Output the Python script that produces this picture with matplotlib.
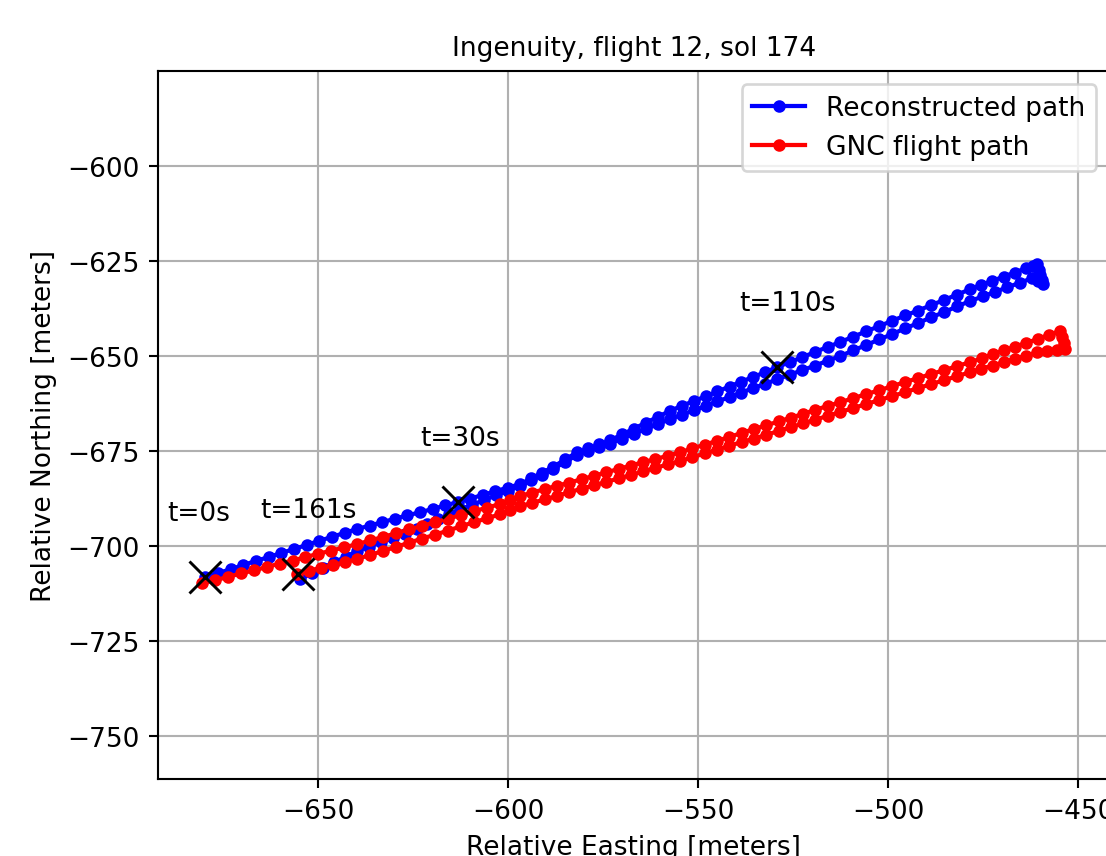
import numpy as np
import matplotlib
matplotlib.use("Agg")
import matplotlib.pyplot as plt

# reconstructed path (blue), east / north in meters
rec_e = [-679.7, -676.4, -673.0, -669.7, -666.4, -663.0, -659.7, -656.4, -653.0, -649.7, -646.4, -643.0, -639.7,
         -636.4, -633.1, -629.8, -626.5, -623.1, -619.8, -616.5, -613.2,
         -609.9, -606.6, -603.4, -600.1, -596.8, -593.9, -591.1, -588.2, -585.0, -581.8,
         -578.9, -576.0, -573.2, -570.0, -566.9, -563.7, -560.6, -557.4,
         -554.3, -551.1, -548.0, -544.9, -541.7, -538.6, -535.5, -532.3, -529.2,
         -525.9, -522.6, -519.2, -515.9, -512.6,
         -509.2, -505.8, -502.3, -498.9, -495.5, -492.1, -488.7, -485.2, -481.8, -478.4,
         -475.5, -472.6, -469.6, -466.7, -463.7, -461.8, -460.8,
         -460.4, -460.0, -459.6, -459.2,
         -460.6, -462.1, -465.4, -468.6, -471.9, -475.1, -478.4,
         -481.8, -485.2, -488.7, -492.1, -495.5, -498.9, -502.3, -505.8, -509.2, -512.6,
         -515.9, -519.2, -522.6, -525.9, -529.2,
         -532.3, -535.5, -538.6, -541.7, -544.9, -548.0, -551.1, -554.3, -557.4,
         -560.6, -563.7, -566.9, -570.0, -573.2, -576.1, -578.9, -581.8, -585.0, -588.2,
         -591.1, -593.9, -596.8, -600.0, -603.1, -606.3, -609.4, -612.6,
         -615.5, -618.3, -621.2, -624.0, -627.1, -630.3, -633.4, -636.6, -639.7,
         -642.7, -645.7, -648.7, -651.7, -654.7]
rec_n = [-708.2, -707.1, -706.1, -705.0, -703.9, -702.9, -701.8, -700.8, -699.7, -698.6, -697.6, -696.5, -695.5,
         -694.6, -693.7, -692.8, -691.9, -691.1, -690.2, -689.3, -688.4,
         -687.5, -686.5, -685.6, -684.6, -683.7, -682.2, -680.7, -679.2, -677.2, -675.3,
         -674.3, -673.2, -672.2, -670.6, -669.1, -667.5, -666.0, -664.4,
         -663.1, -661.8, -660.6, -659.3, -658.0, -656.7, -655.5, -654.2, -652.9,
         -651.6, -650.3, -648.9, -647.6, -646.3,
         -644.9, -643.5, -642.1, -640.7, -639.3, -638.0, -636.6, -635.2, -633.8, -632.4,
         -631.3, -630.2, -629.1, -628.0, -626.9, -626.2, -625.8,
         -627.2, -628.6, -629.9, -631.1,
         -630.3, -629.5, -630.7, -631.9, -633.1, -634.3, -635.5,
         -636.9, -638.4, -639.8, -641.3, -642.7, -644.2, -645.6, -647.1, -648.5, -650.0,
         -651.2, -652.5, -653.7, -654.9, -656.1,
         -657.3, -658.4, -659.6, -660.8, -661.9, -663.1, -664.3, -665.4, -666.6,
         -667.9, -669.2, -670.4, -671.7, -673.0, -674.0, -675.0, -676.0, -677.9, -679.7,
         -681.2, -682.7, -684.2, -685.4, -686.6, -687.9, -689.1, -690.3,
         -691.6, -692.9, -694.2, -695.5, -696.7, -697.8, -699.0, -700.1, -701.3,
         -702.8, -704.2, -705.7, -707.2, -708.7]

# GNC flight path (red)
gnc_e = [-680.5, -677.1, -673.7, -670.3, -666.9, -663.5, -660.1, -656.7, -653.3, -649.9, -646.5, -643.1, -639.7,
         -636.3, -632.9, -629.5, -626.0, -622.6, -619.2, -615.8, -612.4, -609.0, -605.5, -602.1,
         -599.5, -596.8,
         -593.6, -590.3, -587.1, -583.9, -580.6, -577.4, -574.2, -570.9, -567.7, -564.4, -561.2, -558.0, -554.7,
         -551.5, -548.2, -545.0, -541.8, -538.5, -535.3, -532.0, -528.8, -525.6, -522.3, -519.1, -515.8, -512.6,
         -509.2, -505.8, -502.3, -498.9, -495.5, -492.1, -488.7, -485.2, -481.8, -478.4,
         -475.4, -472.5, -469.5, -466.6, -463.6, -460.6, -457.7, -454.7,
         -454.2, -453.8, -453.4,
         -455.5, -458.1, -460.8,
         -463.7, -466.7, -469.6, -472.5, -475.5, -478.4,
         -481.8, -485.2, -488.7, -492.1, -495.5, -498.9, -502.3, -505.8, -509.2, -512.6,
         -515.8, -519.1, -522.3, -525.6, -528.8, -532.0, -535.3, -538.5, -541.8, -545.0, -548.2, -551.5, -554.7,
         -557.9, -561.2, -564.4, -567.7, -570.9, -574.2, -577.4, -580.6, -583.9, -587.1, -590.3, -593.6, -596.8,
         -599.5, -602.1,
         -605.5, -609.0, -612.4, -615.8, -619.2, -622.6, -626.0, -629.5, -632.9, -636.3, -639.7,
         -642.9, -646.0, -649.2, -652.3, -655.5]
gnc_n = [-709.8, -709.0, -708.1, -707.2, -706.4, -705.5, -704.6, -703.8, -702.9, -702.0, -701.2, -700.3, -699.5,
         -698.5, -697.6, -696.6, -695.6, -694.7, -693.7, -692.8, -691.8, -690.8, -689.9, -688.9,
         -687.9, -686.8,
         -685.9, -685.0, -684.1, -683.3, -682.4, -681.5, -680.6, -679.7, -678.8, -677.9, -677.1, -676.2, -675.3,
         -674.3, -673.3, -672.3, -671.3, -670.2, -669.2, -668.2, -667.2, -666.2, -665.2, -664.1, -663.1, -662.1,
         -661.1, -660.0, -659.0, -657.9, -656.8, -655.8, -654.7, -653.7, -652.6, -651.6,
         -650.6, -649.5, -648.5, -647.5, -646.5, -645.5, -644.4, -643.4,
         -645.0, -646.6, -648.2,
         -648.5, -648.7, -649.0,
         -649.9, -650.7, -651.6, -652.5, -653.3, -654.2,
         -655.3, -656.3, -657.4, -658.4, -659.5, -660.5, -661.6, -662.6, -663.7, -664.7,
         -665.7, -666.7, -667.7, -668.7, -669.7, -670.7, -671.7, -672.6, -673.6, -674.6, -675.6, -676.6, -677.6,
         -678.5, -679.4, -680.3, -681.3, -682.2, -683.1, -684.0, -684.9, -685.8, -686.8, -687.7, -688.6, -689.5,
         -690.5, -691.6,
         -692.7, -693.7, -694.8, -695.9, -697.0, -698.0, -699.1, -700.2, -701.3, -702.3, -703.4,
         -704.2, -705.0, -705.7, -706.5, -707.3]

# time marks on the reconstructed path
mark_t = [0, 30, 110, 161]
mark_e = [-679.7, -613.2, -529.2, -655.3]
mark_n = [-708.2, -688.4, -652.9, -707.4]

plt.rcParams['font.size'] = 10
fig = plt.figure(figsize=(1106 / 190, 857 / 190), dpi=190)
ax = fig.add_axes([0.1429, 0.0898, 0.86, 0.826])

ax.plot(rec_e, rec_n, '.-', color='blue', markersize=7.5, linewidth=1.6, label='Reconstructed path')
ax.plot(gnc_e, gnc_n, '.-', color='red', markersize=7.5, linewidth=1.6, label='GNC flight path')
ax.plot(mark_e, mark_n, 'x', color='black', markersize=12, markeredgewidth=1.1)
for t, e, n in zip(mark_t, mark_e, mark_n):
    ax.text(e - 10, n + 15, 't=%ds' % t)

ax.set_xlim(-692.1, -441.8)
ax.set_ylim(-761.3, -575)
ax.set_xticks(np.arange(-650, -449, 50))
ax.set_yticks(np.arange(-750, -599, 25))
ax.grid(True)
ax.legend(loc='upper right')
ax.set_title('Ingenuity, flight 12, sol 174', fontsize=10)
ax.set_xlabel('Relative Easting [meters]')
ax.set_ylabel('Relative Northing [meters]')

fig.savefig('out.png', dpi=190)
